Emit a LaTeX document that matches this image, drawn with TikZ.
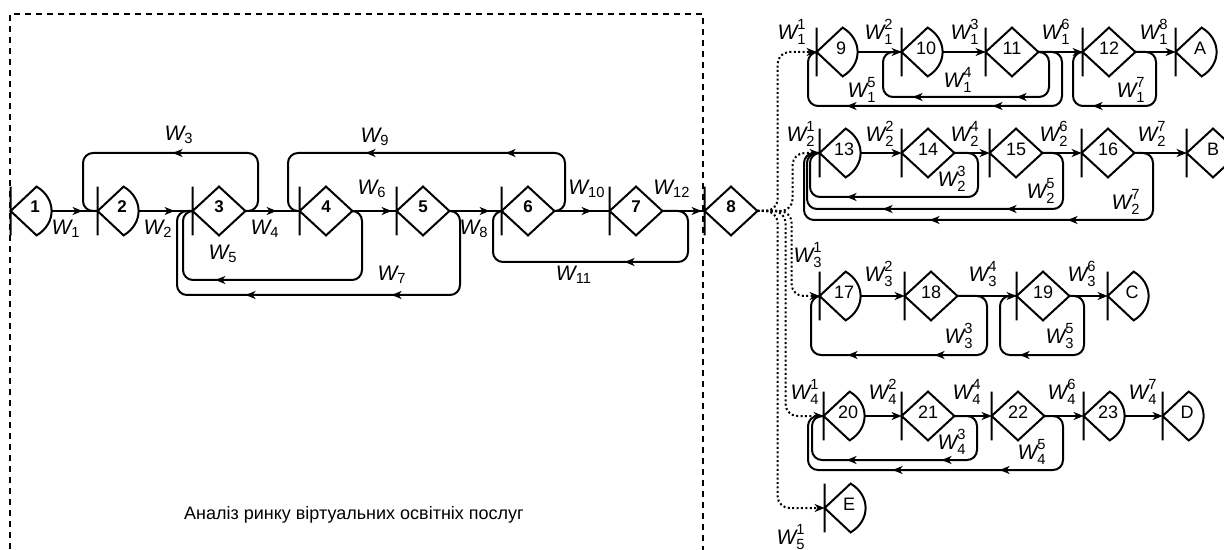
\documentclass[tikz,border=0pt]{standalone}
\usepackage{amsmath}
\usepackage{fontspec}
\setmainfont{Liberation Sans}
\usetikzlibrary{arrows.meta,calc,decorations.markings}

\newcommand\Wm[1]{$\textit{W}_{\text{#1}}$}
\newcommand\Wr[2]{$\textit{W}_{\text{#1}}^{\text{#2}}$}
\pgfkeys{/pgf/decoration/tipat/.style={mark=at position #1 with {\arrow{>}}}}

\begin{document}
\begin{tikzpicture}[
  x=0.5pt,
  y=-0.5pt,
  >={Stealth[length=5pt,width=4pt,inset=1.5pt]},
  every node/.style={font=\fontsize{10.5}{10.5}\selectfont},
  shapeline/.style={line width=1pt},
  gbase/.style={inner sep=0pt, minimum height=24pt, text depth=4pt, font=\fontsize{9}{9}\selectfont},
  gdia/.style={gbase, minimum width=26pt,
    append after command={\pgfextra{\let\gn\tikzlastnode
      \draw[shapeline] (\gn.north west) -- (\gn.south west)
        (\gn.west) -- (\gn.north) -- (\gn.east) -- (\gn.south) -- cycle;}}},
  garc/.style={gbase, minimum width=20.5pt, execute at begin node={\hspace{3.5pt}},
    append after command={\pgfextra{\let\gn\tikzlastnode
      \draw[shapeline] (\gn.north west) -- (\gn.south west)
        (\gn.west) -- ([xshift=13pt]\gn.north west)
        .. controls ([xshift=23pt,yshift=-6pt]\gn.north west) and ([xshift=23pt,yshift=6pt]\gn.south west)
        .. ([xshift=13pt]\gn.south west) -- cycle;}}},
  mainnum/.style={font=\fontsize{8.5}{8.5}\selectfont\bfseries},
  fwd/.style={line width=1pt, ->},
  fwdm/.style={line width=1pt, postaction={decorate}, decoration={markings, tipat=-#1}},
  back/.style={line width=1pt, rounded corners=5pt, postaction={decorate}, decoration={markings, #1}},
  dotline/.style={line width=1pt, dash pattern=on 1pt off 1.2pt, rounded corners=6pt, ->},
  frame/.style={line width=0.6pt, dash pattern=on 3pt off 2.5pt}
]
  \useasboundingbox (0,0) rectangle (1224,550);

  % frame of the first stage
  \draw[frame] (10,560) |- (703,14) -- (703,560);
  \node[font=\fontsize{9}{9}\selectfont] (title) at (354,515) {Аналіз ринку віртуальних освітніх послуг};

  % main row
  \node[garc, mainnum] (n1) at (31.5,211) {1};
  \node[garc, mainnum] (n2) at (118.5,211) {2};
  \node[gdia, mainnum] (n3) at (219,211) {3};
  \node[gdia, mainnum] (n4) at (326,211) {4};
  \node[gdia, mainnum] (n5) at (423,211) {5};
  \node[gdia, mainnum] (n6) at (528,211) {6};
  \node[gdia, mainnum] (n7) at (636,211) {7};
  \node[gdia, mainnum] (n8) at (731,211) {8};

  \draw[fwdm=7.5pt] (n1.east) -- (n2.west);
  \draw[fwdm=9pt] (n2.east) -- (n3.west);
  \draw[fwdm=11.5pt] (n3.east) -- (n4.west);
  \draw[fwdm=2.5pt] (n4.east) -- (n5.west);
  \draw[fwdm=6pt] (n5.east) -- (n6.west);
  \draw[fwdm=9pt] (n6.east) -- (n7.west);
  \draw[fwdm=1.5pt] (n7.east) -- (n8.west);

  \draw[back={tipat=73.7pt}] (n3.east) -| (258,153) -| (83,211) -- (n2.west);
  \draw[back={tipat=59.7pt, tipat=129.7pt}] (n6.east) -| (565,153) -| (288,211) -- (n4.west);
  \draw[back={tipat=108.7pt}] (n4.east) -| (362,280) -| (183,211) -- (n3.west);
  \draw[back={tipat=77.2pt, tipat=150.2pt}] (n5.east) -| (460,295) -| (177,211) -- (n3.west);
  \draw[back={tipat=65.7pt}] (n7.east) -| (688,262) -| (493,211) -- (n6.west);

  \node (w1) at (66,229) {\Wm{1}};
  \node (w2) at (158,229) {\Wm{2}};
  \node (w3) at (179,135) {\Wm{3}};
  \node (w4) at (265,229) {\Wm{4}};
  \node (w5) at (223,254) {\Wm{5}};
  \node (w6) at (372,189) {\Wm{6}};
  \node (w7) at (392,275) {\Wm{7}};
  \node (w8) at (474,229) {\Wm{8}};
  \node (w9) at (375,137) {\Wm{9}};
  \node (w10) at (587,189) {\Wm{10}};
  \node (w11) at (574,275) {\Wm{11}};
  \node (w12) at (672,189) {\Wm{12}};

  % branch 1
  \node[garc] (n9) at (837.5,52) {9};
  \node[garc] (n10) at (922.5,52) {10};
  \node[gdia] (n11) at (1012,52) {11};
  \node[gdia] (n12) at (1109,52) {12};
  \node[garc] (nA) at (1196.5,52) {A};
  \draw[fwd] (n9.east) -- (n10.west);
  \draw[fwd] (n10.east) -- (n11.west);
  \draw[fwd] (n11.east) -- (n12.west);
  \draw[fwd] (n12.east) -- (nA.west);
  \draw[back={tipat=39.7pt, tipat=91.7pt}] (n11.east) -| (1049,97) -| (883,52) -- (n10.west);
  \draw[back={tipat=69.2pt, tipat=142.2pt}] (n11.east) -| (1062,106) -| (808,52) -- (n9.west);
  \draw[back={tipat=64.7pt}] (n12.east) -| (1156,106) -| (1073,52) -- (n12.west);
  \node (w1-1) at (792,32) {\Wr{1}{1}};
  \node (w1-2) at (879,32) {\Wr{1}{2}};
  \node (w1-3) at (965,32) {\Wr{1}{3}};
  \node (w1-6) at (1056,32) {\Wr{1}{6}};
  \node (w1-8) at (1154,32) {\Wr{1}{8}};
  \node (w1-4) at (958,80) {\Wr{1}{4}};
  \node (w1-5) at (862,90) {\Wr{1}{5}};
  \node (w1-7) at (1131,90) {\Wr{1}{7}};

  % branch 2
  \node[garc] (n13) at (840.5,153) {13};
  \node[gdia] (n14) at (928,153) {14};
  \node[gdia] (n15) at (1016,153) {15};
  \node[gdia] (n16) at (1108,153) {16};
  \node[gdia] (nB) at (1213,153) {B};
  \draw[fwd] (n13.east) -- (n14.west);
  \draw[fwd] (n14.east) -- (n15.west);
  \draw[fwd] (n15.east) -- (n16.west);
  \draw[fwd] (n16.east) -- (nB.west);
  \draw[back={tipat=95.2pt}] (n14.east) -| (978,197) -| (810,153) -- (n13.west);
  \draw[back={tipat=62.2pt, tipat=124.2pt}] (n15.east) -| (1063,209) -| (807,153) -- (n13.west);
  \draw[back={tipat=81.2pt, tipat=150.2pt}] (n16.east) -| (1153,220) -| (804,153) -- (n13.west);
  \node (w2-1) at (801,134) {\Wr{2}{1}};
  \node (w2-2) at (880,134) {\Wr{2}{2}};
  \node (w2-4) at (965,134) {\Wr{2}{4}};
  \node (w2-6) at (1054,134) {\Wr{2}{6}};
  \node (w2-7) at (1152,134) {\Wr{2}{7}};
  \node (w2-3) at (952,179) {\Wr{2}{3}};
  \node (w2-5) at (1041,191) {\Wr{2}{5}};
  \node (w2-7b) at (1126,202) {\Wr{2}{7}};

  % branch 3
  \node[garc] (n17) at (840.5,296) {17};
  \node[gdia] (n18) at (931,296) {18};
  \node[gdia] (n19) at (1043,296) {19};
  \node[garc] (nC) at (1128.5,296) {C};
  \draw[fwd] (n17.east) -- (n18.west);
  \draw[fwd] (n18.east) -- (n19.west);
  \draw[fwd] (n19.east) -- (nC.west);
  \draw[back={tipat=66.2pt, tipat=109.7pt}] (n18.east) -| (987,355) -| (811,296) -- (n17.west);
  \draw[back={tipat=64.7pt}] (n19.east) -| (1084,355) -| (1000,296) -- (n19.west);
  \node (w3-1) at (808,255) {\Wr{3}{1}};
  \node (w3-2) at (879,274) {\Wr{3}{2}};
  \node (w3-4) at (983,274) {\Wr{3}{4}};
  \node (w3-6) at (1082,274) {\Wr{3}{6}};
  \node (w3-3) at (959,336) {\Wr{3}{3}};
  \node (w3-5) at (1060,336) {\Wr{3}{5}};

  % branch 4
  \node[garc] (n20) at (844.5,416) {20};
  \node[gdia] (n21) at (928,416) {21};
  \node[gdia] (n22) at (1018,416) {22};
  \node[garc] (n23) at (1104.5,416) {23};
  \node[garc] (nD) at (1183.5,416) {D};
  \draw[fwd] (n20.east) -- (n21.west);
  \draw[fwd] (n21.east) -- (n22.west);
  \draw[fwd] (n22.east) -- (n23.west);
  \draw[fwd] (n23.east) -- (nD.west);
  \draw[back={tipat=46.7pt, tipat=94.2pt}] (n21.east) -| (977,460) -| (812,416) -- (n20.west);
  \draw[back={tipat=63.7pt, tipat=117.2pt}] (n22.east) -| (1063,470) -| (808,416) -- (n20.west);
  \node (w4-1) at (805,392) {\Wr{4}{1}};
  \node (w4-2) at (883,392) {\Wr{4}{2}};
  \node (w4-4) at (967,392) {\Wr{4}{4}};
  \node (w4-6) at (1062,392) {\Wr{4}{6}};
  \node (w4-7) at (1143,392) {\Wr{4}{7}};
  \node (w4-3) at (952,442) {\Wr{4}{3}};
  \node (w4-5) at (1032,452) {\Wr{4}{5}};

  % branch 5
  \node[garc] (nE) at (845.5,508) {E};
  \node (w5-1) at (791,537) {\Wr{5}{1}};

  % exits of node 8
  \draw[dotline] (n8.east) -| ($(n9.west)+(-39,0)$) -- (n9.west);
  \draw[dotline] (n8.east) -| ($(n13.west)+(-27,0)$) -- (n13.west);
  \draw[dotline] (n8.east) -| ($(n17.west)+(-28,0)$) -- (n17.west);
  \draw[dotline] (n8.east) -| ($(n20.west)+(-38,0)$) -- (n20.west);
  \draw[dotline] (n8.east) -| ($(nE.west)+(-47,0)$) -- (nE.west);
\end{tikzpicture}
\end{document}
